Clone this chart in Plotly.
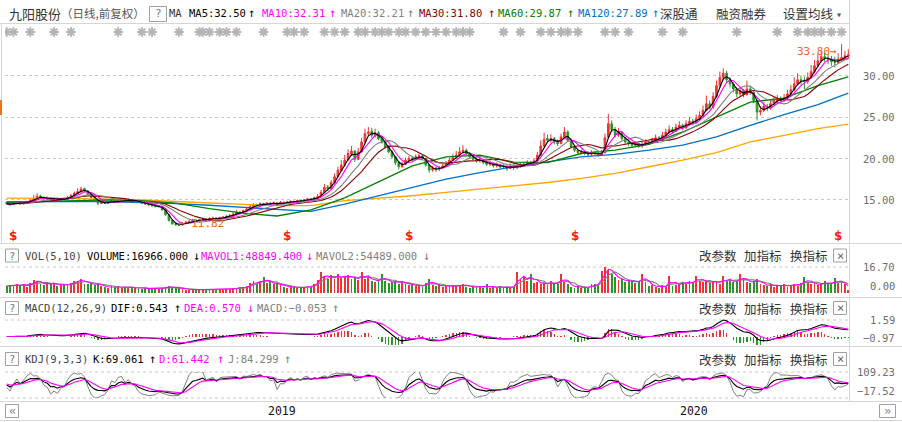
import numpy as np
import pandas as pd
import plotly.graph_objects as go

W, H = 902, 422
MONO = "DejaVu Sans Mono, Liberation Mono, monospace"
CJK = "Noto Sans CJK SC, sans-serif"

RED = "#ee3333"; GRN = "#2a962a"
C_MA5 = "#000000"; C_MA10 = "#ff00ff"; C_MA20 = "#808080"; C_MA30 = "#8b0000"
C_MA60 = "#008000"; C_MA120 = "#0070c8"; C_MA250 = "#ffa500"
GRID = "#c8c8c8"; FRAME = "#d6d6d6"; TXT = "#333333"; AXT = "#6e6e6e"; LBL = "#f26522"

# ---------------- data (one candle = two sessions) ----------------
opens = [
 14.70, 14.55, 14.42, 14.60, 14.72, 14.50, 14.64, 14.78, 14.96, 15.15,
 15.48, 15.30, 15.08, 15.25, 15.02, 15.22, 15.00, 15.18, 15.08, 15.28,
 15.50, 15.75, 15.95, 16.35, 16.05, 15.70, 15.30, 15.00, 14.55, 14.72,
 14.58, 14.74, 14.86, 14.70, 14.88, 14.96, 14.80, 15.00, 14.82, 14.92,
 14.76, 14.62, 14.50, 14.42, 14.30, 14.18, 14.22, 13.78, 13.20, 12.50,
 12.12, 12.00, 11.96, 12.18, 12.28, 12.40, 12.56, 12.44, 12.60, 12.72,
 12.55, 12.74, 12.82, 12.70, 12.84, 12.90, 12.98, 13.08, 13.28, 13.52,
 13.40, 13.68, 13.90, 14.18, 14.42, 14.30, 14.56, 14.44, 14.62, 14.50,
 14.64, 14.42, 14.72, 14.58, 14.74, 14.82, 14.70, 14.92, 14.84, 14.98,
 15.12, 15.00, 15.22, 15.40, 15.92, 16.55, 16.30, 17.10, 17.80, 18.55,
 19.20, 19.85, 20.55, 20.90, 19.90, 20.80, 22.00, 23.00, 23.30, 22.70,
 23.10, 22.50, 22.00, 21.40, 20.80, 20.20, 19.50, 19.00, 19.30, 19.80,
 20.05, 19.90, 20.20, 20.30, 20.00, 19.20, 18.60, 18.85, 18.70, 18.90,
 19.10, 19.40, 19.80, 20.10, 20.40, 20.80, 21.00, 20.60, 20.20, 19.90,
 19.70, 19.80, 19.50, 19.30, 19.40, 19.10, 19.20, 19.05, 19.00, 18.80,
 19.10, 18.90, 19.00, 19.20, 19.30, 19.50, 19.40, 19.70, 20.40, 21.50,
 22.40, 22.20, 22.40, 22.00, 21.80, 22.60, 23.20, 22.20, 21.40, 21.00,
 20.70, 20.80, 20.60, 20.50, 20.70, 20.60, 20.40, 20.70, 22.60, 24.20,
 23.50, 22.80, 23.20, 22.40, 22.00, 21.80, 21.60, 21.80, 21.50, 21.70,
 22.00, 21.90, 22.20, 22.50, 22.30, 22.80, 23.20, 23.50, 23.30, 23.80,
 24.00, 23.70, 24.20, 24.50, 24.30, 24.80, 25.20, 25.80, 26.60, 26.20,
 27.50, 28.80, 29.80, 30.30, 29.50, 29.00, 28.40, 27.80, 28.20, 27.70,
 28.40, 28.00, 27.00, 25.60, 25.80, 26.30, 26.10, 26.60, 27.00, 27.20,
 27.00, 27.30, 27.80, 28.30, 29.00, 29.50, 29.40, 29.30, 29.80, 30.50,
 31.20, 31.80, 32.30, 32.10, 32.00, 31.70, 31.60, 32.00, 32.20, 32.40]
highs = [
 14.80, 14.62, 14.70, 14.85, 14.78, 14.75, 14.90, 15.05, 15.60, 15.80,
 15.60, 15.40, 15.40, 15.35, 15.30, 15.28, 15.25, 15.30, 15.45, 15.70,
 16.00, 16.40, 16.60, 16.50, 16.15, 15.80, 15.40, 15.05, 14.85, 14.80,
 14.85, 15.00, 14.95, 15.05, 15.15, 15.05, 15.20, 15.10, 15.05, 15.00,
 14.85, 14.70, 14.60, 14.55, 14.40, 14.38, 14.28, 13.85, 13.25, 12.60,
 12.30, 12.15, 12.30, 12.45, 12.55, 12.70, 12.65, 12.72, 12.85, 12.78,
 12.90, 12.95, 12.88, 12.95, 13.05, 13.15, 13.30, 13.50, 13.75, 13.65,
 13.85, 14.20, 14.45, 14.60, 14.55, 14.70, 14.65, 14.75, 14.70, 14.80,
 14.70, 14.85, 14.80, 14.90, 14.95, 14.90, 15.05, 15.00, 15.10, 15.25,
 15.20, 15.40, 15.70, 16.20, 16.90, 16.80, 17.40, 18.20, 19.00, 19.80,
 20.40, 21.10, 21.50, 21.00, 21.30, 22.50, 23.60, 23.80, 23.70, 23.60,
 23.30, 22.70, 22.20, 21.60, 21.00, 20.30, 19.70, 19.60, 20.10, 20.30,
 20.30, 20.50, 20.60, 20.40, 20.10, 19.30, 19.10, 19.00, 19.10, 19.40,
 19.70, 20.10, 20.50, 20.90, 21.40, 21.60, 21.20, 20.80, 20.40, 20.10,
 20.10, 19.90, 19.70, 19.70, 19.50, 19.50, 19.40, 19.30, 19.20, 19.40,
 19.30, 19.30, 19.50, 19.60, 19.80, 19.70, 20.00, 20.80, 22.20, 23.10,
 22.90, 22.90, 22.60, 22.30, 23.00, 23.80, 23.40, 22.40, 21.60, 21.20,
 21.10, 21.00, 20.90, 21.00, 20.90, 20.80, 21.00, 23.00, 25.40, 24.60,
 23.80, 23.70, 23.30, 22.60, 22.30, 22.00, 22.10, 21.90, 22.00, 22.30,
 22.20, 22.50, 22.90, 22.70, 23.20, 23.60, 24.00, 23.80, 24.20, 24.50,
 24.20, 24.60, 25.00, 24.80, 25.30, 25.70, 26.40, 27.60, 27.00, 28.00,
 29.40, 30.50, 30.90, 30.60, 29.80, 29.20, 28.60, 28.60, 28.40, 29.40,
 28.80, 28.10, 27.10, 26.30, 26.80, 26.60, 27.00, 27.40, 27.70, 27.50,
 27.80, 28.30, 28.90, 29.80, 30.30, 30.00, 29.90, 30.40, 31.30, 31.90,
 32.60, 33.00, 32.80, 32.60, 32.40, 32.30, 32.70, 33.80, 33.00, 33.20]
lows = [
 14.45, 14.30, 14.38, 14.55, 14.45, 14.46, 14.60, 14.72, 14.90, 15.10,
 15.22, 15.02, 15.00, 14.98, 14.95, 14.92, 14.95, 15.02, 15.05, 15.25,
 15.45, 15.70, 15.90, 16.00, 15.60, 15.25, 14.90, 14.35, 14.50, 14.50,
 14.55, 14.68, 14.62, 14.66, 14.80, 14.72, 14.76, 14.80, 14.75, 14.68,
 14.50, 14.40, 14.32, 14.20, 14.10, 14.10, 13.70, 13.10, 12.40, 12.00,
 11.90, 11.82, 11.90, 12.10, 12.20, 12.35, 12.38, 12.40, 12.52, 12.48,
 12.50, 12.66, 12.60, 12.65, 12.78, 12.85, 12.92, 13.02, 13.22, 13.30,
 13.35, 13.62, 13.85, 14.10, 14.20, 14.25, 14.35, 14.40, 14.42, 14.45,
 14.32, 14.38, 14.52, 14.55, 14.66, 14.62, 14.66, 14.76, 14.80, 14.92,
 14.92, 14.95, 15.15, 15.35, 15.85, 16.10, 16.20, 17.00, 17.70, 18.40,
 19.00, 19.70, 20.30, 19.60, 19.80, 20.70, 21.80, 22.70, 22.50, 22.50,
 22.20, 21.80, 21.20, 20.60, 20.00, 19.20, 18.70, 18.90, 19.20, 19.60,
 19.70, 19.80, 20.00, 19.80, 19.00, 18.30, 18.40, 18.40, 18.50, 18.80,
 19.00, 19.30, 19.70, 20.00, 20.30, 20.60, 20.40, 20.00, 19.70, 19.50,
 19.50, 19.30, 19.10, 19.10, 18.90, 18.90, 18.80, 18.70, 18.50, 18.70,
 18.60, 18.70, 18.90, 19.00, 19.20, 19.20, 19.30, 19.60, 20.30, 21.30,
 21.90, 21.90, 21.70, 21.50, 21.70, 22.40, 22.00, 21.20, 20.80, 20.40,
 20.50, 20.40, 20.30, 20.30, 20.40, 20.20, 20.30, 20.60, 22.40, 23.20,
 22.50, 22.60, 22.20, 21.70, 21.50, 21.30, 21.40, 21.30, 21.30, 21.60,
 21.70, 21.80, 22.00, 22.10, 22.20, 22.70, 23.00, 23.00, 23.20, 23.60,
 23.40, 23.60, 24.00, 24.00, 24.20, 24.60, 25.00, 25.70, 25.90, 26.00,
 27.30, 28.60, 29.40, 29.20, 28.60, 28.00, 27.40, 27.50, 27.40, 27.60,
 27.70, 26.70, 24.60, 25.20, 25.60, 25.70, 25.90, 26.40, 26.80, 26.70,
 26.80, 27.10, 27.60, 28.10, 28.80, 28.90, 28.40, 29.00, 29.60, 30.30,
 31.00, 31.60, 31.70, 31.40, 31.20, 31.00, 31.40, 31.80, 31.90, 32.00]
closes = [
 14.55, 14.40, 14.62, 14.70, 14.50, 14.66, 14.80, 14.95, 15.20, 15.45,
 15.30, 15.10, 15.25, 15.05, 15.20, 15.00, 15.15, 15.10, 15.30, 15.55,
 15.80, 16.00, 16.30, 16.10, 15.70, 15.30, 15.00, 14.60, 14.70, 14.60,
 14.75, 14.85, 14.70, 14.90, 14.95, 14.80, 15.00, 14.85, 14.90, 14.75,
 14.60, 14.50, 14.40, 14.30, 14.20, 14.25, 13.80, 13.20, 12.50, 12.10,
 12.00, 11.95, 12.20, 12.30, 12.40, 12.55, 12.45, 12.60, 12.70, 12.55,
 12.75, 12.80, 12.70, 12.85, 12.90, 13.00, 13.10, 13.30, 13.50, 13.40,
 13.70, 13.90, 14.20, 14.40, 14.30, 14.55, 14.45, 14.60, 14.50, 14.65,
 14.40, 14.70, 14.60, 14.75, 14.80, 14.70, 14.90, 14.85, 15.00, 15.10,
 15.00, 15.25, 15.40, 15.90, 16.50, 16.30, 17.10, 17.80, 18.60, 19.20,
 19.80, 20.60, 20.90, 19.90, 20.80, 22.00, 23.00, 23.20, 22.80, 23.10,
 22.40, 22.00, 21.40, 20.80, 20.20, 19.50, 19.00, 19.30, 19.80, 20.00,
 19.90, 20.20, 20.30, 20.00, 19.20, 18.60, 18.80, 18.70, 18.90, 19.10,
 19.40, 19.80, 20.10, 20.40, 20.80, 21.00, 20.60, 20.20, 19.90, 19.70,
 19.80, 19.50, 19.30, 19.40, 19.10, 19.20, 19.00, 19.00, 18.80, 19.10,
 18.90, 19.00, 19.20, 19.30, 19.50, 19.40, 19.70, 20.40, 21.50, 22.30,
 22.20, 22.40, 22.00, 21.80, 22.60, 23.20, 22.20, 21.40, 21.00, 20.70,
 20.80, 20.60, 20.50, 20.70, 20.60, 20.40, 20.70, 22.50, 24.20, 23.50,
 22.80, 23.20, 22.40, 22.00, 21.80, 21.60, 21.80, 21.50, 21.70, 22.00,
 21.90, 22.20, 22.50, 22.30, 22.80, 23.20, 23.50, 23.30, 23.80, 24.00,
 23.70, 24.20, 24.50, 24.30, 24.80, 25.20, 25.80, 26.60, 26.20, 27.50,
 28.80, 29.80, 30.30, 29.50, 29.00, 28.40, 27.80, 28.20, 27.70, 28.40,
 28.00, 27.00, 25.60, 25.80, 26.30, 26.10, 26.60, 27.00, 27.20, 27.00,
 27.30, 27.80, 28.30, 29.00, 29.50, 29.40, 29.30, 29.80, 30.50, 31.20,
 31.80, 32.30, 32.10, 32.00, 31.70, 31.60, 32.00, 32.20, 32.40, 32.50]
# volume, in 10k lots
volumes = [
 4.5, 5.0, 4.2, 6.0, 4.8, 5.5, 4.0, 6.5,
 8.4, 7.5, 6.0, 5.0, 7.0, 5.5, 6.5, 4.5, 5.0,
 6.0, 5.0, 6.5, 7.5, 8.0, 9.0, 6.0, 5.5, 6.5,
 5.0, 6.5, 4.5, 4.0, 3.5, 4.2, 3.8, 4.5, 3.5, 4.0, 3.2, 3.8,
 3.0, 3.5, 2.8, 3.2, 2.5, 3.0, 2.8, 2.5, 3.5,
 3.8, 4.5, 3.5, 3.0, 3.2,
 2.5, 2.2, 2.0, 2.4, 1.8, 2.2, 2.0, 2.5, 1.8, 2.3, 2.0, 2.6, 2.2, 2.8, 2.4, 3.0,
 3.2, 3.8, 3.0, 4.2,
 6.5, 7.5, 5.5, 8.0, 10.0, 6.5, 7.0, 5.5, 6.0, 5.0,
 4.0, 3.5, 4.2, 3.8, 3.2, 4.0, 3.5, 4.5, 4.0,
 6.0, 8.5, 13.6, 10.0, 9.0, 11.5, 9.0,
 12.0, 9.5, 10.5, 11.7, 9.0, 10.0, 8.5, 13.6,
 9.0, 10.5, 8.0, 7.0, 8.5, 12.0, 7.5, 6.5, 7.0, 8.0, 6.0, 7.5,
 6.0, 5.0, 5.5, 4.5, 5.0, 4.0, 6.5, 9.0, 5.0, 4.5, 5.5, 4.0, 5.0, 4.2, 5.0,
 4.5, 5.0, 6.0, 4.0, 3.5, 4.2, 3.8, 4.0, 3.5, 5.5, 3.0, 4.0, 3.5, 4.5, 3.2, 4.0, 3.5, 4.0,
 13.5, 9.0, 10.0, 7.5,
 12.0, 6.5, 7.0, 6.0,
 6.5, 5.0, 8.0, 5.5, 6.0, 12.0, 7.0, 5.5,
 4.0, 3.5, 4.5, 3.0, 4.0, 3.5,
 5.5, 6.0, 5.0,
 14.0, 16.7, 15.0, 12.0,
 10.0, 8.5, 9.0, 7.0, 8.0, 7.5, 6.5, 8.0, 12.0, 7.0,
 4.5, 5.0, 4.0, 3.5, 5.0, 4.0, 11.0, 4.5, 5.0,
 6.5, 7.0, 6.0, 7.5, 6.5, 11.0, 8.0, 7.0, 7.5, 6.5, 8.0, 7.0, 6.0, 11.0, 7.5,
 8.0, 7.0, 7.5, 12.0, 8.5, 7.0, 6.5, 8.0, 9.0,
 5.5, 5.0, 4.5, 6.0, 4.0, 5.0, 4.5, 5.5, 4.0, 5.0, 6.0, 4.5,
 6.5, 10.0, 7.0, 5.5, 6.5, 5.0, 6.0, 7.5, 5.5, 6.0, 9.5, 6.5, 7.0, 5.5, 1.70]

# long moving averages at sample candles
ma_sample_idx = [0, 10, 20, 30, 40, 50, 60, 70, 80, 90, 100, 110, 120, 130, 140,
                 150, 160, 170, 180, 190, 200, 210, 220, 230, 240, 249]
ma60_vals = [14.7, 14.8, 14.9, 15.0, 14.9, 14.6, 13.95, 13.4, 13.05, 13.8, 15.25, 17.2, 19.1,
             20.2, 20.4, 19.55, 19.5, 20.6, 21.0, 21.7, 23.2, 25.0, 26.8, 27.3, 28.8, 29.87]
ma120_vals = [14.75, 14.8, 14.8, 14.8, 14.7, 14.55, 14.35, 14.1, 13.85, 13.6, 14.5, 15.5, 16.55,
              17.5, 18.3, 19.0, 19.6, 20.2, 20.5, 21.0, 21.6, 22.6, 24.0, 25.3, 26.5, 27.89]
ma250_vals = [15.2, 15.2, 15.15, 15.1, 15.0, 14.8, 14.6, 14.45, 14.3, 14.3, 14.9, 15.2, 15.5,
              15.9, 16.3, 16.7, 17.1, 17.6, 18.2, 19.0, 19.8, 20.7, 22.0, 22.8, 23.6, 24.15]

event_idx = [0, 2, 7, 14, 19, 33, 40, 43, 51, 57, 58, 60, 63, 65, 68, 76, 83, 85, 88, 94, 97,
             100, 104, 106, 109, 111, 113, 116, 118, 121, 124, 127, 130, 133, 135, 137, 147,
             152, 158, 161, 164, 166, 169, 177, 180, 184, 194, 200, 216, 228, 234, 237, 239,
             241, 244, 247]
dividend_idx = [2, 83, 119, 168, 246]
year_idx = [77, 199]
year_labels = ["2019", "2020"]
price_ticks = [15, 20, 25, 30]
price_tick_labels = ["15.00", "20.00", "25.00", "30.00"]
vol_labels = ["16.70", "0.00"]
macd_labels = ["1.59", "\u22120.97"]
kdj_labels = ["109.23", "\u221217.52"]

ma_legend = [("MA5:32.50", C_MA5), ("MA10:32.31", C_MA10), ("MA20:32.21", C_MA20),
             ("MA30:31.80", C_MA30), ("MA60:29.87", C_MA60), ("MA120:27.89", C_MA120)]
vol_legend = [("VOLUME:16966.000", "#000000", "\u2193"), ("MAVOL1:48849.400", C_MA10, "\u2193"),
              ("MAVOL2:54489.000", C_MA20, "\u2193")]
macd_legend = [("DIF:0.543", "#000000", "\u2191"), ("DEA:0.570", C_MA10, "\u2193"),
               ("MACD:\u22120.053", C_MA20, "\u2191")]
kdj_legend = [("K:69.061", "#000000", "\u2191"), ("D:61.442", C_MA10, "\u2191"),
              ("J:84.299", C_MA20, "\u2191")]

N = len(closes)
for arr in (opens, highs, lows, volumes):
    assert len(arr) == N, len(arr)

# ---------------- indicators ----------------
xs = np.arange(N)
c = pd.Series(closes, dtype=float)
ma_short = {"MA5": (3, C_MA5), "MA10": (5, C_MA10), "MA20": (10, C_MA20), "MA30": (15, C_MA30)}
v = pd.Series(volumes, dtype=float)
mavol1 = v.rolling(3, min_periods=1).mean()
mavol2 = v.rolling(5, min_periods=1).mean()
dif = c.ewm(span=6, adjust=False).mean() - c.ewm(span=13, adjust=False).mean()
dea = dif.ewm(span=5, adjust=False).mean()
hist = 2 * (dif - dea)
hh = pd.Series(highs).rolling(5, min_periods=1).max()
ll = pd.Series(lows).rolling(5, min_periods=1).min()
rsv = (c - ll) / (hh - ll) * 100
K, D = [], []
k = d = 50.0
for r in rsv:
    k = 2 / 3 * k + r / 3
    d = 2 / 3 * d + k / 3
    K.append(k); D.append(d)
K = np.array(K); D = np.array(D); J = 3 * K - 2 * D


def fy(py):
    return 1 - py / H


def fx(px):
    return px / W


fig = go.Figure()
fig.add_trace(go.Candlestick(
    x=xs, open=opens, high=highs, low=lows, close=closes,
    increasing=dict(line=dict(color=RED, width=1), fillcolor=RED),
    decreasing=dict(line=dict(color=GRN, width=1), fillcolor=GRN),
    whiskerwidth=0, hoverinfo="skip", xaxis="x", yaxis="y"))
fig.add_trace(go.Scatter(x=ma_sample_idx, y=ma250_vals, mode="lines",
                         line=dict(color=C_MA250, width=1.3), yaxis="y"))
fig.add_trace(go.Scatter(x=ma_sample_idx, y=ma120_vals, mode="lines",
                         line=dict(color=C_MA120, width=1.3), yaxis="y"))
fig.add_trace(go.Scatter(x=ma_sample_idx, y=ma60_vals, mode="lines",
                         line=dict(color=C_MA60, width=1.3), yaxis="y"))
for name in ["MA30", "MA20", "MA10", "MA5"]:
    w, col = ma_short[name]
    fig.add_trace(go.Scatter(x=xs, y=c.rolling(w, min_periods=1).mean(), mode="lines",
                             line=dict(color=col, width=1.1), yaxis="y"))

vol_colors = [RED if cl >= op else GRN for op, cl in zip(opens, closes)]
fig.add_trace(go.Bar(x=xs, y=volumes, marker=dict(color=vol_colors, line=dict(width=0)),
                     width=0.55, yaxis="y2"))
fig.add_trace(go.Scatter(x=xs, y=mavol2, mode="lines", line=dict(color=C_MA20, width=1.1), yaxis="y2"))
fig.add_trace(go.Scatter(x=xs, y=mavol1, mode="lines", line=dict(color=C_MA10, width=1.1), yaxis="y2"))

hist_colors = [RED if h >= 0 else GRN for h in hist]
fig.add_trace(go.Bar(x=xs, y=hist, marker=dict(color=hist_colors, line=dict(width=0)),
                     width=0.4, yaxis="y3"))
fig.add_trace(go.Scatter(x=xs, y=dif, mode="lines", line=dict(color="#000000", width=1.1), yaxis="y3"))
fig.add_trace(go.Scatter(x=xs, y=dea, mode="lines", line=dict(color=C_MA10, width=1.1), yaxis="y3"))

fig.add_trace(go.Scatter(x=xs, y=J, mode="lines", line=dict(color="#808080", width=1), yaxis="y4"))
fig.add_trace(go.Scatter(x=xs, y=K, mode="lines", line=dict(color="#000000", width=1.1), yaxis="y4"))
fig.add_trace(go.Scatter(x=xs, y=D, mode="lines", line=dict(color=C_MA10, width=1.1), yaxis="y4"))

fig.add_trace(go.Scatter(x=event_idx, y=[0.5] * len(event_idx), mode="markers",
                         marker=dict(symbol="asterisk-open", size=8, color="#b4b4b4",
                                     line=dict(width=2, color="#b4b4b4")), yaxis="y5"))

# MACD axis scaling: zero line at y=336.5px, top data at 320px
M = float(max(dif.max(), dea.max()))
u = M / (336.5 - 320)
macd_range = [-(345 - 336.5) * u, (336.5 - 318) * u]
jlo, jhi = float(np.percentile(J, 1.5)), float(np.percentile(J, 98.5))

hidden = dict(visible=False, fixedrange=True)
fig.update_layout(
    width=W, height=H, margin=dict(l=0, r=0, t=0, b=0),
    paper_bgcolor="white", plot_bgcolor="white", showlegend=False,
    bargap=0, hovermode=False,
    xaxis=dict(domain=[fx(5), fx(850)], range=[-0.5, N - 0.5], visible=False,
               rangeslider=dict(visible=False), fixedrange=True, anchor="y"),
    yaxis=dict(domain=[fy(243), fy(40)], range=[9.79, 34.31], tickvals=price_ticks,
               showticklabels=False, showgrid=True, griddash="dot", gridcolor=GRID,
               gridwidth=1, zeroline=False, showline=False, ticks="", anchor="x",
               fixedrange=True),
    yaxis2=dict(domain=[fy(293), fy(267)], range=[0, 16.7], anchor="x", **hidden),
    yaxis3=dict(domain=[fy(345), fy(318)], range=macd_range, anchor="x", **hidden),
    yaxis4=dict(domain=[fy(398), fy(372)], range=[jlo, jhi], anchor="x", **hidden),
    yaxis5=dict(domain=[fy(37), fy(27)], range=[0, 1], anchor="x", **hidden),
)

ann = []
shapes = []


def txt(x, y, s, color=TXT, size=10.5, family=MONO, xanchor="left", yanchor="middle", **kw):
    d = dict(x=fx(x), y=fy(y), xref="paper", yref="paper", text=s, showarrow=False,
             font=dict(color=color, size=size, family=family), xanchor=xanchor,
             yanchor=yanchor, borderpad=0)
    d.update(kw)
    ann.append(d)


def line(x0, y0, x1, y1, color=FRAME, dash="solid", width=1):
    shapes.append(dict(type="line", xref="paper", yref="paper", x0=fx(x0), y0=fy(y0),
                       x1=fx(x1), y1=fy(y1), line=dict(color=color, width=width, dash=dash),
                       layer="below"))


def box(x0, y0, x1, y1, color="#a0a0a0"):
    shapes.append(dict(type="rect", xref="paper", yref="paper", x0=fx(x0), y0=fy(y0),
                       x1=fx(x1), y1=fy(y1), line=dict(color=color, width=1)))


# frame lines
line(0, 23.5, 849.5, 23.5)
line(849.5, 0, 849.5, 401)
line(1.5, 23.5, 1.5, 243)
for yy in (243.5, 297.5, 346.5, 401.5, 420.5):
    line(0, yy, W, yy)
for yy in (267, 320, 372, 398):
    line(5, yy, 849, yy, color=GRID, dash="dot")
shapes.append(dict(type="rect", xref="paper", yref="paper", x0=0, x1=fx(2), y0=fy(115), y1=fy(100),
                   line=dict(width=0), fillcolor="#f07020"))

# header
txt(8, 13, "九阳股份", color=TXT, size=13, family=CJK)
txt(60, 13, "（日线,前复权）", color="#555555", size=11.5, family=CJK)
box(149.5, 6.5, 166.5, 21.5)
txt(158, 13.5, "?", color="#777777", size=11, xanchor="center")
txt(168, 13, "MA", color=TXT)
leg_x = [188, 261, 340, 418, 497, 577]
arr_x = [247, 328, 406, 487, 566, 651]
for (s, col), lx, ax in zip(ma_legend, leg_x, arr_x):
    txt(lx, 13, s, color=col)
    txt(ax, 13, "\u2191", color=col, size=12)
txt(659, 13, "深股通", size=12.5, family=CJK)
txt(715, 13, "融资融券", size=12.5, family=CJK)
txt(782, 13, "设置均线", size=12.5, family=CJK)
txt(835, 14, "\u25be", size=10, color="#555555")

# panel headers
panels = [(255.5, "VOL(5,10)", vol_legend, [86, 200, 315], [192, 305, 422]),
          (308, "MACD(12,26,9)", macd_legend, [110, 183, 256], [173, 246, 331]),
          (359, "KDJ(9,3,3)", kdj_legend, [92, 158, 227], [148, 216, 283])]
for yc, title, legend, lxs, axs in panels:
    box(5.5, yc - 6.5, 18.5, yc + 6.5)
    txt(12, yc, "?", color="#777777", size=10.5, xanchor="center")
    txt(24, yc, title, color="#444444")
    for (s, col, arw), lx, ax in zip(legend, lxs, axs):
        txt(lx, yc, s, color=col)
        txt(ax, yc, arw, color=col, size=12)
    txt(698, yc, "改参数", size=12.5, family=CJK)
    txt(743, yc, "加指标", size=12.5, family=CJK)
    txt(789, yc, "换指标", size=12.5, family=CJK)
    box(833.5, yc - 6.5, 846.5, yc + 6.5)
    txt(840, yc, "\u00d7", color="#666666", size=12, xanchor="center")

# right axis labels
PRICE_PX = {30: 75.7, 25: 117.1, 20: 158.5, 15: 199.9}
for val, lab in zip(price_ticks, price_tick_labels):
    txt(896, PRICE_PX[val], lab, color=AXT, xanchor="right")
txt(896, 267, vol_labels[0], color=AXT, xanchor="right")
txt(896, 286, vol_labels[1], color=AXT, xanchor="right")
txt(896, 320, macd_labels[0], color=AXT, xanchor="right")
txt(896, 338, macd_labels[1], color=AXT, xanchor="right")
txt(896, 372, kdj_labels[0], color=AXT, xanchor="right")
txt(896, 391, kdj_labels[1], color=AXT, xanchor="right")

# bottom axis
box(5.5, 404.5, 18.5, 417.5)
txt(12, 411, "\u00ab", color="#888888", size=12, xanchor="center")
box(879.5, 404.5, 895.5, 417.5)
txt(887.5, 411, "\u00bb", color="#888888", size=12, xanchor="center")
for xi, lab in zip(year_idx, year_labels):
    ann.append(dict(x=xi, y=fy(411), xref="x", yref="paper", text=lab, showarrow=False,
                    font=dict(color="#111111", size=11.5, family=MONO), xanchor="left",
                    yanchor="middle", borderpad=0))

# dividend markers
for xi in dividend_idx:
    ann.append(dict(x=xi, y=fy(236), xref="x", yref="paper", text="<b>$</b>", showarrow=False,
                    font=dict(color="#ff1a1a", size=12, family="DejaVu Sans"),
                    xanchor="center", yanchor="middle", borderpad=0))

# high / low labels
hi_i = int(np.argmax(highs)); lo_i = int(np.argmin(lows))
ann.append(dict(x=hi_i, y=highs[hi_i], xref="x", yref="y", text=f"{highs[hi_i]:.2f}\u2192",
                showarrow=False, font=dict(color=LBL, size=11, family=MONO),
                xanchor="right", yanchor="top", xshift=-4, borderpad=0))
ann.append(dict(x=lo_i, y=lows[lo_i], xref="x", yref="y", text=f"\u2190 {lows[lo_i]:.2f}",
                showarrow=False, font=dict(color=LBL, size=11, family=MONO),
                xanchor="left", yanchor="middle", yshift=3, xshift=-2, borderpad=0))

fig.update_layout(annotations=ann, shapes=shapes)
fig.write_html("out.html",
               config={"displayModeBar": False, "staticPlot": True},
               post_script="document.body.style.margin='0';document.body.style.overflow='hidden';")
